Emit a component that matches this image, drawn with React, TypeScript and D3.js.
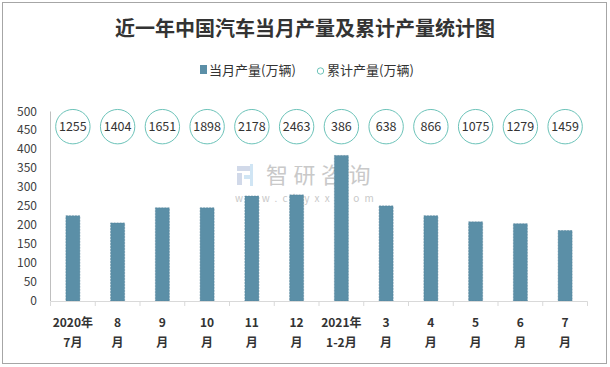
import React from "react";
import * as d3 from "d3";

const categories = ["2020年7月", "8月", "9月", "10月", "11月", "12月", "2021年1-2月", "3月", "4月", "5月", "6月", "7月"];
const labelLine1 = ["2020年", "8", "9", "10", "11", "12", "2021年", "3", "4", "5", "6", "7"];
const labelLine2 = ["7月", "月", "月", "月", "月", "月", "1-2月", "月", "月", "月", "月", "月"];
const monthly = [225, 206, 246, 246, 277, 280, 384, 251, 225, 209, 204, 186];
const cumulative = [1255, 1404, 1651, 1898, 2178, 2463, 386, 638, 866, 1075, 1279, 1459];
const yTicks = [0, 50, 100, 150, 200, 250, 300, 350, 400, 450, 500];
const circleRowValue = 460;

const W = 610;
const H = 367;
const FONT = "'Noto Sans CJK SC', 'Noto Sans', sans-serif";

export default function App() {
  const x = d3.scaleBand<string>().domain(categories).range([50.5, 587.5]).paddingInner(0).paddingOuter(0);
  const y = d3.scaleLinear().domain([0, 500]).range([301, 111.5]);
  const barW = 14;
  const bw = x.bandwidth();
  return (
    <svg width={W} height={H} style={{ position: "absolute", left: 0, top: 0, background: "#fff" }}>
      <rect x={2.5} y={2.5} width={604} height={361} fill="#fff" stroke="#a6a6a6" strokeWidth={1} />
      <text x={305} y={36} textAnchor="middle" fontFamily={FONT} fontWeight="bold" fontSize={20} fill="#333">
        近一年中国汽车当月产量及累计产量统计图
      </text>
      {/* legend */}
      <rect x={200} y={65} width={7} height={9} fill="#5b8fa7" />
      <text x={209} y={75} fontFamily={FONT} fontSize={13} fill="#333">当月产量(万辆)</text>
      <circle cx={320.5} cy={71} r={3.2} fill="#fff" stroke="#6cc3b9" strokeWidth={1} />
      <text x={327} y={75} fontFamily={FONT} fontSize={13} fill="#333">累计产量(万辆)</text>

      {/* watermark */}
      <g opacity={0.85}>
        <rect x={237} y={166} width={14} height={5} fill="#c9d3e6" />
        <rect x={237} y={173} width={5} height={12} fill="#c9d3e6" />
        <rect x={244} y={175} width={9} height={4} fill="#c8e1f3" />
        <rect x={250} y={164} width={3} height={22} fill="#c8e1f3" />
        <text x={266} y={183} fontFamily={FONT} fontSize={22} fill="#c0c0c0" letterSpacing={5.5}>智研咨询</text>
        <text x={235} y={202} fontFamily={FONT} fontSize={10} fill="#c0c0c0" letterSpacing={5.3}>www.chyxx.com</text>
      </g>

      {/* y axis */}
      <line x1={50.5} x2={50.5} y1={y(500)} y2={y(0)} stroke="#bfbfbf" />
      {yTicks.map((t) => (
        <text key={t} x={37} y={y(t) + 4} textAnchor="end" fontFamily={FONT} fontSize={12} fill="#404040">{t}</text>
      ))}

      {/* bars */}
      {categories.map((c, i) => (
        <rect key={c} x={(x(c) as number) + bw / 2 - barW / 2} y={y(monthly[i])} width={barW} height={y(0) - y(monthly[i])}
          fill="#5b8fa7" stroke="#4f7f96" strokeWidth={0.5} strokeDasharray="2,1" />
      ))}

      {/* x axis */}
      <line x1={50.5} x2={587.5} y1={301.5} y2={301.5} stroke="#d9d9d9" />
      {categories.concat(["end"]).map((c, i) => {
        const xx = i < categories.length ? (x(c) as number) : 587.5;
        return <line key={"t" + i} x1={xx} x2={xx} y1={301.5} y2={306} stroke="#d9d9d9" />;
      })}
      {categories.map((c, i) => {
        const cx = (x(c) as number) + bw / 2;
        return (
          <g key={"l" + c} fontFamily={FONT} fontWeight="bold" fontSize={12} fill="#333" textAnchor="middle">
            <text x={cx} y={327}>{labelLine1[i]}</text>
            <text x={cx} y={347}>{labelLine2[i]}</text>
          </g>
        );
      })}

      {/* cumulative circles */}
      {categories.map((c, i) => {
        const cx = (x(c) as number) + bw / 2;
        return (
          <g key={"c" + c}>
            <circle cx={cx} cy={y(circleRowValue)} r={17.2} fill="#fff" stroke="#6cc3b9" strokeWidth={1} />
            <text x={cx} y={y(circleRowValue) + 4.5} textAnchor="middle" fontFamily={FONT} fontSize={12.5} fill="#333">
              {cumulative[i]}
            </text>
          </g>
        );
      })}
    </svg>
  );
}
